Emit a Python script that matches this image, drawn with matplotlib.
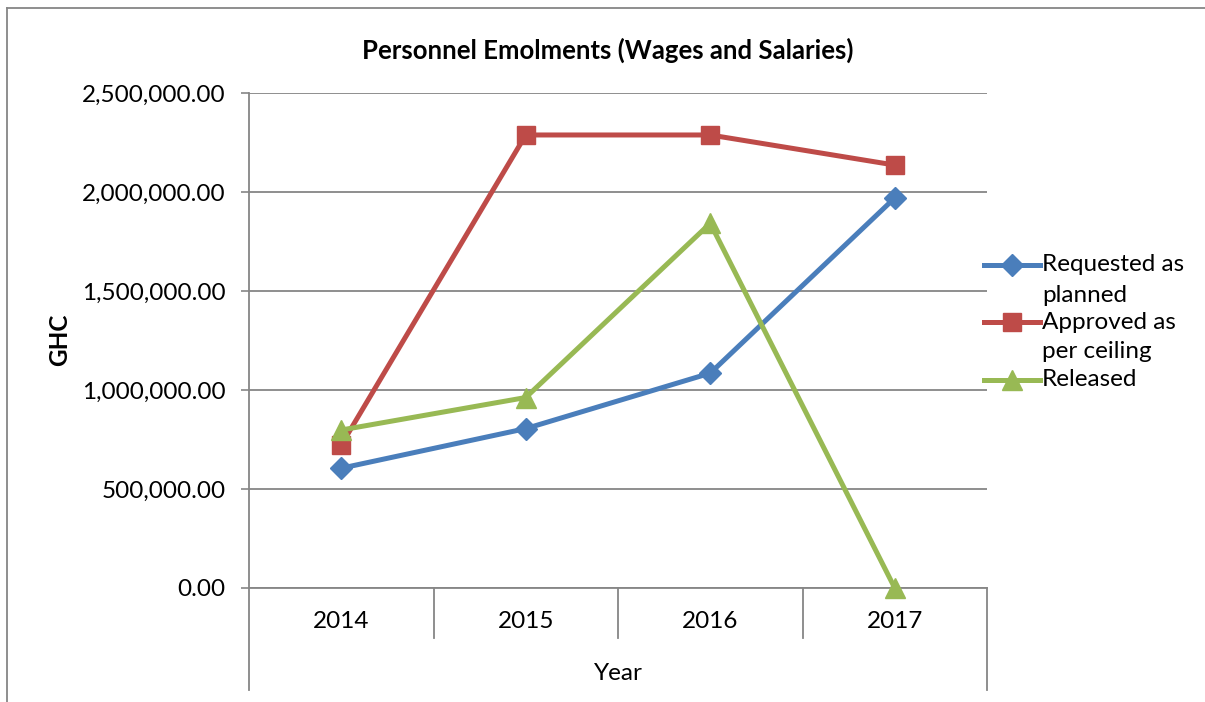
import matplotlib
matplotlib.use('Agg')
import matplotlib.pyplot as plt
from matplotlib.lines import Line2D
from matplotlib.ticker import FuncFormatter

# Data
years = ['2014', '2015', '2016', '2017']
requested = [605000, 805000, 1085000, 1970000]
approved = [722000, 2288000, 2288000, 2136000]
released = [798000, 962000, 1842000, 0]

series_labels = ['Requested as\nplanned', 'Approved as\nper ceiling', 'Released']
y_ticks = [0, 500000, 1000000, 1500000, 2000000, 2500000]

plt.rcParams['font.family'] = ['Lato', 'DejaVu Sans']
FS = 17.5

fig = plt.figure(figsize=(12.05, 7.02), dpi=100)
W, H = 1205, 702

def fx(px):
    return px / W

def fy(py):
    return 1 - py / H

ax = fig.add_axes([fx(249), fy(588), fx(987) - fx(249), fy(93) - fy(588)])

grey = '#868686'
colors = ['#4A7EBB', '#BE4B48', '#98B954']
markers = ['D', 's', '^']
msizes = [11.5, 13.5, 14]

x = list(range(len(years)))
for vals, c, m, ms in zip([requested, approved, released], colors, markers, msizes):
    ax.plot(x, vals, color=c, lw=3.6, marker=m, markersize=ms,
            markeredgecolor=c, clip_on=False, zorder=3)

ax.set_xlim(-0.5, len(years) - 0.5)
ax.set_ylim(0, 2500000)
ax.set_yticks(y_ticks)
ax.yaxis.set_major_formatter(FuncFormatter(lambda v, p: f'{v:,.2f}'))
ax.tick_params(axis='y', length=6, width=1.2, color=grey, pad=11, labelsize=FS)
ax.set_xticks([])
ax.grid(axis='y', color=grey, lw=1.3)
ax.set_axisbelow(True)

for s in ['top', 'right']:
    ax.spines[s].set_visible(False)
for s in ['left', 'bottom']:
    ax.spines[s].set_color(grey)
    ax.spines[s].set_linewidth(1.3)

# category axis divisions (Excel style)
tr = ax.get_xaxis_transform()
lo_inner = -(638 - 588) / 495
lo_outer = -(690 - 588) / 495
for b in [i + 0.5 for i in range(len(years) - 1)]:
    ax.plot([b, b], [0, lo_inner], transform=tr, color=grey, lw=1.3, clip_on=False)
for b in [-0.5, len(years) - 0.5]:
    ax.plot([b, b], [0, lo_outer], transform=tr, color=grey, lw=1.3, clip_on=False)
for i, yr in enumerate(years):
    ax.text(i, -(622 - 588) / 495, yr, transform=tr, ha='center', va='center', fontsize=FS)
ax.text(1.5, -(673 - 588) / 495, 'Year', transform=tr, ha='center', va='center', fontsize=FS)

fig.text(fx(608), fy(50), 'Personnel Emolments (Wages and Salaries)', ha='center', va='center',
         fontsize=18.5, fontweight='bold')
fig.text(fx(60), fy(340), 'GHC', ha='center', va='center', rotation=90,
         fontsize=FS, fontweight='bold')

# legend drawn by hand so markers line up with the first text line
leg_y = [265, 322, 380]
for lab, c, m, ms, yy in zip(series_labels, colors, markers, msizes, leg_y):
    fig.add_artist(Line2D([fx(984), fx(1040)], [fy(yy), fy(yy)], color=c, lw=3.6))
    fig.add_artist(Line2D([fx(1012)], [fy(yy)], color=c, marker=m, markersize=ms,
                          markeredgecolor=c))
    for k, part in enumerate(lab.split('\n')):
        fig.text(fx(1042), fy(yy + 30 * k), part, ha='left', va='center', fontsize=FS)

# chart frame
fig.add_artist(Line2D([fx(7), fx(7)], [fy(8), 0], color=grey, lw=1.3))
fig.add_artist(Line2D([fx(7), 1], [fy(8), fy(8)], color=grey, lw=1.3))

fig.savefig('out.png', dpi=100)
